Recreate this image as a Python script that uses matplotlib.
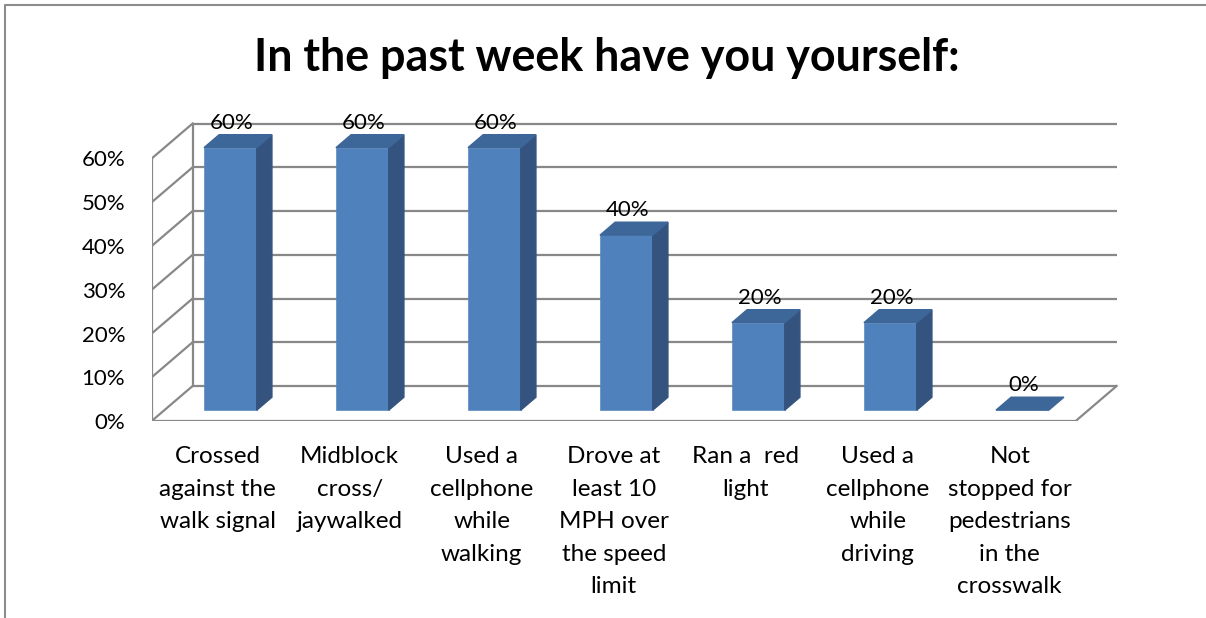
import matplotlib.pyplot as plt
from matplotlib.patches import Polygon
from matplotlib.lines import Line2D

plt.rcParams['font.family'] = ['Lato', 'DejaVu Sans']

categories = ['Crossed\nagainst the\nwalk signal', 'Midblock\ncross/\njaywalked',
              'Used a\ncellphone\nwhile\nwalking', 'Drove at\nleast 10\nMPH over\nthe speed\nlimit',
              'Ran a  red\nlight', 'Used a\ncellphone\nwhile\ndriving',
              'Not\nstopped for\npedestrians\nin the\ncrosswalk']
values = [60, 60, 60, 40, 20, 20, 0]
yticks = [0, 10, 20, 30, 40, 50, 60]

front_c = '#4F81BD'
side_c = '#34537F'
top_c = '#3D6699'
line_c = '#888888'

# fake depth: how far the back wall sits from the front plane (data units)
ddx, ddy = 0.31, 8.0
f0, f1 = 0.31, 0.68      # bar front / back depth fractions
bw = 0.4

W, H = 1206, 618
fig = plt.figure(figsize=(W / 100, H / 100), dpi=100)
px_x, px_y = 132.0, 4.375
ax_left, ax_bottom = 151.7, 421.0
xmax = 6.5 + ddx + 0.02
ymax = 60 + ddy + 0.5
ax = fig.add_axes([ax_left / W, (H - ax_bottom) / H,
                   (xmax + 0.5) * px_x / W, ymax * px_y / H])
ax.set_xlim(-0.5, xmax)
ax.set_ylim(0, ymax)
for s in ax.spines.values():
    s.set_visible(False)

lw = 1.6
x0, x1 = -0.5, len(values) - 0.5
# back wall gridlines and left wall
for v in yticks:
    ax.plot([x0 + ddx, x1 + ddx], [v + ddy, v + ddy], color=line_c, lw=lw,
            solid_capstyle='butt', zorder=1)
    ax.plot([x0, x0 + ddx], [v, v + ddy], color=line_c, lw=lw, zorder=1)
ax.plot([x0, x0], [0, yticks[-1]], color=line_c, lw=lw, zorder=1)
ax.plot([x0 + ddx, x0 + ddx], [ddy, yticks[-1] + ddy], color=line_c, lw=lw, zorder=1)
# floor
ax.plot([x0, x1, x1 + ddx], [0, 0, ddy], color=line_c, lw=lw, zorder=1)

# bars
base = f0 * ddy
sx, sy = (f1 - f0) * ddx, (f1 - f0) * ddy
for i, v in enumerate(values):
    xl = i + f0 * ddx - bw / 2
    xr = xl + bw
    if v > 0:
        ax.bar(xl + bw / 2, v, width=bw, bottom=base, color=front_c,
               edgecolor='#5A8AC4', linewidth=0.5, zorder=3)
        ax.add_patch(Polygon([(xr, base), (xr, base + v), (xr + sx, base + v + sy),
                              (xr + sx, base + sy)], closed=True, color=side_c, zorder=3))
    ax.add_patch(Polygon([(xl, base + v), (xr, base + v), (xr + sx, base + v + sy),
                          (xl + sx, base + v + sy)], closed=True, color=top_c, zorder=3))
    ax.text(i + f0 * ddx + 0.01, base + v + sy + 2.7, f'{v}%', ha='center',
            va='center', fontsize=16, zorder=4)

ax.set_yticks(yticks)
ax.set_yticklabels([f'{v}%' for v in yticks], fontsize=16)
ax.set_xticks(range(len(categories)))
ax.set_xticklabels(categories, fontsize=17.5, linespacing=1.68, va='top')
ax.tick_params(axis='y', length=0, pad=19)
ax.tick_params(axis='x', length=0, pad=18)

fig.text(607 / W, 1 - 58 / H, 'In the past week have you yourself:', ha='center',
         va='center', fontsize=32.3, fontweight='bold')

# chart frame
fig.add_artist(Line2D([5 / W, 5 / W, 1], [0, 1 - 5 / H, 1 - 5 / H],
                      transform=fig.transFigure, color='#8C8C8C', lw=1.5))

fig.savefig('out.png', dpi=100)
